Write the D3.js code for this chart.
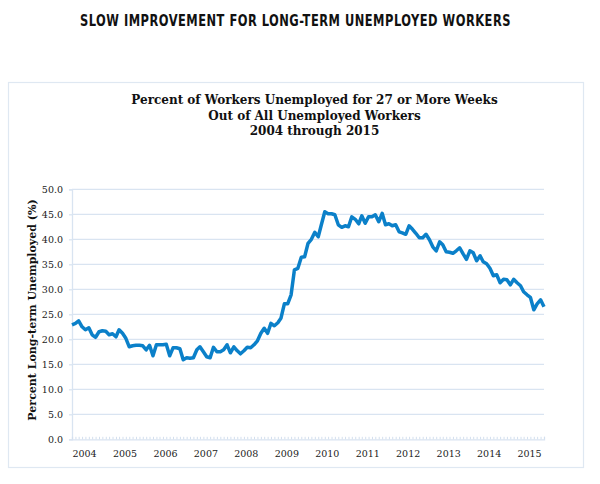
<!DOCTYPE html>
<html>
<head>
<meta charset="utf-8">
<script src="https://cdn.jsdelivr.net/npm/d3@7"></script>
<style>
  body { margin: 0; background: #fff; }
  svg { display: block; }
</style>
</head>
<body>
<svg id="chart" width="600" height="484"></svg>
<script>
// monthly series, Jan 2004 .. Sep 2015
var startYear = 2004;
var values2004 = [22.9, 23.2, 23.7, 22.5, 21.9, 22.3, 20.9, 20.4, 21.5, 21.7, 21.6, 20.9];
var values2005 = [21.1, 20.5, 21.9, 21.2, 20.2, 18.5, 18.7, 18.8, 18.8, 18.7, 17.9, 18.8];
var values2006 = [16.7, 18.9, 18.9, 18.9, 19.0, 16.7, 18.3, 18.3, 18.1, 15.9, 16.3, 16.2];
var values2007 = [16.3, 17.9, 18.5, 17.5, 16.5, 16.3, 18.4, 17.5, 17.5, 17.9, 18.9, 17.3];
var values2008 = [18.5, 17.7, 17.1, 17.7, 18.4, 18.3, 18.9, 19.7, 21.2, 22.2, 21.2, 23.2];
var values2009 = [22.7, 23.3, 24.2, 27.1, 27.1, 28.9, 33.9, 34.2, 36.4, 36.5, 39.2, 40.0];
var values2010 = [41.4, 40.5, 42.9, 45.5, 45.1, 45.1, 44.9, 42.9, 42.4, 42.7, 42.5, 44.5];
var values2011 = [44.0, 43.1, 44.7, 43.2, 44.5, 44.5, 44.9, 43.5, 45.2, 42.9, 43.1, 42.7];
var values2012 = [42.9, 41.5, 41.3, 41.0, 42.7, 42.0, 41.2, 40.3, 40.3, 41.0, 39.9, 38.5];
var values2013 = [37.7, 39.5, 38.9, 37.5, 37.4, 37.2, 37.7, 38.3, 37.1, 36.0, 37.7, 37.3];
var values2014 = [35.7, 36.7, 35.5, 35.1, 34.2, 32.7, 32.9, 31.3, 32.0, 31.9, 30.9, 32.0];
var values2015 = [31.3, 30.7, 29.5, 28.9, 28.4, 25.9, 27.1, 27.9, 26.5];

var yTicks = [0, 5, 10, 15, 20, 25, 30, 35, 40, 45, 50];
var yearLabels = ["2004", "2005", "2006", "2007", "2008", "2009", "2010", "2011", "2012", "2013", "2014", "2015"];

var mainTitle = "SLOW IMPROVEMENT FOR LONG-TERM UNEMPLOYED WORKERS";
var subTitle = ["Percent of Workers Unemployed for 27 or More Weeks", "Out of All Unemployed Workers", "2004 through 2015"];
var yTitle = "Percent Long-term Unemployed (%)";

// flatten into {date, value}
var allYears = [values2004, values2005, values2006, values2007, values2008, values2009,
                values2010, values2011, values2012, values2013, values2014, values2015];
var data = [];
allYears.forEach(function (arr, i) {
    arr.forEach(function (v, m) {
        data.push({ date: new Date(startYear + i, m, 1), value: v });
    });
});

var svg = d3.select("#chart");
var serif = "'DejaVu Serif', Georgia, serif";
var gridColor = "#d9e4f1";
var lineColor = "#0b80c9";

// big header above the box (squeezed to look condensed)
svg.append("text")
    .attr("x", 80)
    .attr("y", 26)
    .attr("textLength", 431)
    .attr("lengthAdjust", "spacingAndGlyphs")
    .style("font-family", "'Liberation Sans Narrow', 'DejaVu Sans Condensed', 'DejaVu Sans', sans-serif")
    .style("font-weight", "bold")
    .style("font-size", "15.5px")
    .style("letter-spacing", "0.6px")
    .style("fill", "#111")
    .text(mainTitle);

// frame
svg.append("rect")
    .attr("x", 8.5).attr("y", 82.5)
    .attr("width", 575).attr("height", 385)
    .style("fill", "white")
    .style("stroke", "#dfe8f2")
    .style("stroke-width", 1.2);

svg.append("g").selectAll("text")
    .data(subTitle)
    .enter().append("text")
    .attr("x", 314.5)
    .attr("y", function (d, i) { return 104 + i * 15.5; })
    .attr("text-anchor", "middle")
    .style("font-family", serif)
    .style("font-weight", "bold")
    .style("font-size", "12px")
    .style("fill", "#111")
    .text(function (d) { return d; });

var plotLeft = 72, plotRight = 544, plotTop = 189.3, plotBottom = 439.3;

var x = d3.scaleTime()
    .domain([data[0].date, data[data.length - 1].date])
    .range([plotLeft, plotRight]);
var y = d3.scaleLinear()
    .domain([0, 50])
    .range([plotBottom, plotTop]);

// horizontal grid
svg.append("g").selectAll("line")
    .data(yTicks.filter(function (d) { return d > 0; }))
    .enter().append("line")
    .attr("x1", plotLeft).attr("x2", plotRight)
    .attr("y1", function (d) { return y(d); })
    .attr("y2", function (d) { return y(d); })
    .style("stroke", gridColor)
    .style("stroke-width", 1.3);

// y axis
var yAxis = svg.append("g")
    .attr("transform", "translate(" + plotLeft + ",0)")
    .call(d3.axisLeft(y).tickValues(yTicks).tickFormat(d3.format(".1f")).tickSize(3).tickPadding(6));
yAxis.select(".domain").style("stroke", gridColor).style("stroke-width", 1.3);
yAxis.selectAll(".tick line").style("stroke", gridColor).style("stroke-width", 1.3);
yAxis.selectAll("text")
    .style("font-family", serif)
    .style("font-size", "9.5px")
    .style("fill", "#222");

// x axis: little monthly ticks give the dotted base line
var xAxis = svg.append("g")
    .attr("transform", "translate(0," + plotBottom + ")")
    .call(d3.axisBottom(x).ticks(d3.timeMonth.every(1)).tickSize(-2.5).tickFormat(""));
xAxis.select(".domain").style("stroke", gridColor).style("stroke-width", 1.3);
xAxis.selectAll(".tick line").style("stroke", "#d3dfee").style("stroke-width", 1);

// year labels, sitting a bit right of each January
svg.append("g").selectAll("text")
    .data(yearLabels)
    .enter().append("text")
    .attr("x", function (d) { return x(new Date(+d, 0, 1)) + 12.5; })
    .attr("y", 457)
    .attr("text-anchor", "middle")
    .style("font-family", serif)
    .style("font-size", "9.5px")
    .style("fill", "#222")
    .text(function (d) { return d; });

// y axis title
svg.append("text")
    .attr("transform", "translate(36,310) rotate(-90)")
    .attr("text-anchor", "middle")
    .style("font-family", serif)
    .style("font-weight", "bold")
    .style("font-size", "11px")
    .style("fill", "#111")
    .text(yTitle);

// the series
var line = d3.line()
    .x(function (d) { return x(d.date); })
    .y(function (d) { return y(d.value); });

svg.append("path")
    .datum(data)
    .attr("d", line)
    .style("fill", "none")
    .style("stroke", lineColor)
    .style("stroke-width", 3.5)
    .style("stroke-linejoin", "round");
</script>
</body>
</html>
